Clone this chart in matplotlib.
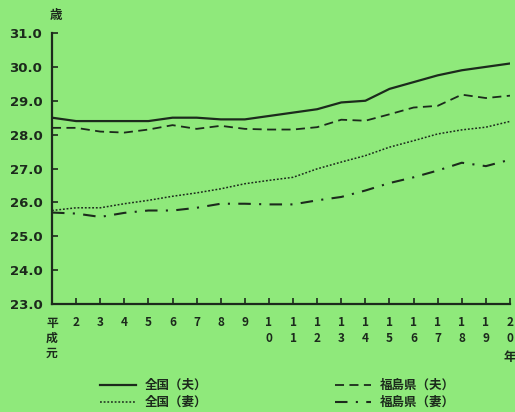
import matplotlib
matplotlib.use("Agg")
import matplotlib.pyplot as plt
from matplotlib.lines import Line2D

plt.rcParams['font.family'] = ['Noto Sans CJK JP', 'DejaVu Sans']

years = list(range(1, 21))
x_labels = ["平\n成\n元", "2", "3", "4", "5", "6", "7", "8", "9",
            "1\n0", "1\n1", "1\n2", "1\n3", "1\n4", "1\n5", "1\n6", "1\n7", "1\n8", "1\n9", "2\n0"]
zenkoku_otto = [28.5, 28.4, 28.4, 28.4, 28.4, 28.5, 28.5, 28.45, 28.45, 28.55,
                28.65, 28.75, 28.95, 29.0, 29.35, 29.55, 29.75, 29.9, 30.0, 30.1]
zenkoku_tsuma = [25.76, 25.84, 25.84, 25.96, 26.06, 26.18, 26.28, 26.4, 26.55, 26.65,
                 26.74, 26.99, 27.19, 27.38, 27.63, 27.82, 28.02, 28.14, 28.22, 28.39]
fukushima_otto = [28.2, 28.2, 28.09, 28.06, 28.15, 28.28, 28.17, 28.26, 28.17, 28.15,
                  28.15, 28.22, 28.44, 28.41, 28.6, 28.8, 28.85, 29.18, 29.08, 29.15]
fukushima_tsuma = [25.7, 25.67, 25.57, 25.69, 25.76, 25.76, 25.84, 25.96, 25.96, 25.94,
                   25.94, 26.06, 26.16, 26.35, 26.57, 26.74, 26.94, 27.17, 27.07, 27.26]
y_ticks = [23.0, 24.0, 25.0, 26.0, 27.0, 28.0, 29.0, 30.0, 31.0]
legend_labels = ["全国（夫）", "全国（妻）", "福島県（夫）", "福島県（妻）"]

bg = '#8fe97b'
ink = '#1c2a1c'
fig = plt.figure(figsize=(5.15, 4.12), dpi=100, facecolor=bg)
ax = fig.add_axes([52/515, 1-304/412, (510-52)/515, (304-33)/412])
ax.set_facecolor(bg)

styles = [
    dict(ls='-', lw=1.6),
    dict(ls=(0, (1.2, 1.2)), lw=1.1),
    dict(ls=(0, (5, 3)), lw=1.3),
    dict(ls=(0, (6, 4, 1, 4)), lw=1.5),
]
series = [zenkoku_otto, zenkoku_tsuma, fukushima_otto, fukushima_tsuma]
for s, st in zip(series, styles):
    ax.plot(years, s, color=ink, **st)

ax.set_xlim(1, 20)
ax.set_ylim(23, 31)
ax.set_yticks(y_ticks)
ax.set_yticklabels([f"{v:.1f}" for v in y_ticks], fontweight='bold', fontsize=9.5,
                   family='DejaVu Sans')
ax.set_xticks(years)
ax.set_xticklabels(x_labels, fontweight='bold', fontsize=8.5, linespacing=1.2,
                   va='top')
ax.tick_params(axis='both', direction='in', length=4, width=1.2, color=ink, labelcolor=ink)
ax.tick_params(axis='x', pad=9)
ax.tick_params(axis='y', pad=7)
for sp in ['top', 'right']:
    ax.spines[sp].set_visible(False)
for sp in ['left', 'bottom']:
    ax.spines[sp].set_linewidth(1.6)
    ax.spines[sp].set_color(ink)

fig.text(56/515, 1-15/412, "歳", fontsize=9, fontweight='bold', ha='center', va='center', color=ink)
fig.text(510/515, 1-358/412, "年", fontsize=9, fontweight='bold', ha='center', va='center', color=ink)

# legend
pos = [(100, 385), (100, 402), (335, 385), (335, 402)]
for (lx, ly), st, lab in zip(pos, styles, legend_labels):
    fig.add_artist(Line2D([lx/515, (lx+36)/515], [1-ly/412, 1-ly/412],
                          color=ink, transform=fig.transFigure, **st))
    fig.text((lx+45)/515, 1-ly/412, lab, fontsize=9, fontweight='bold',
             ha='left', va='center', color=ink)

fig.savefig("out.png", dpi=100, facecolor=bg)
